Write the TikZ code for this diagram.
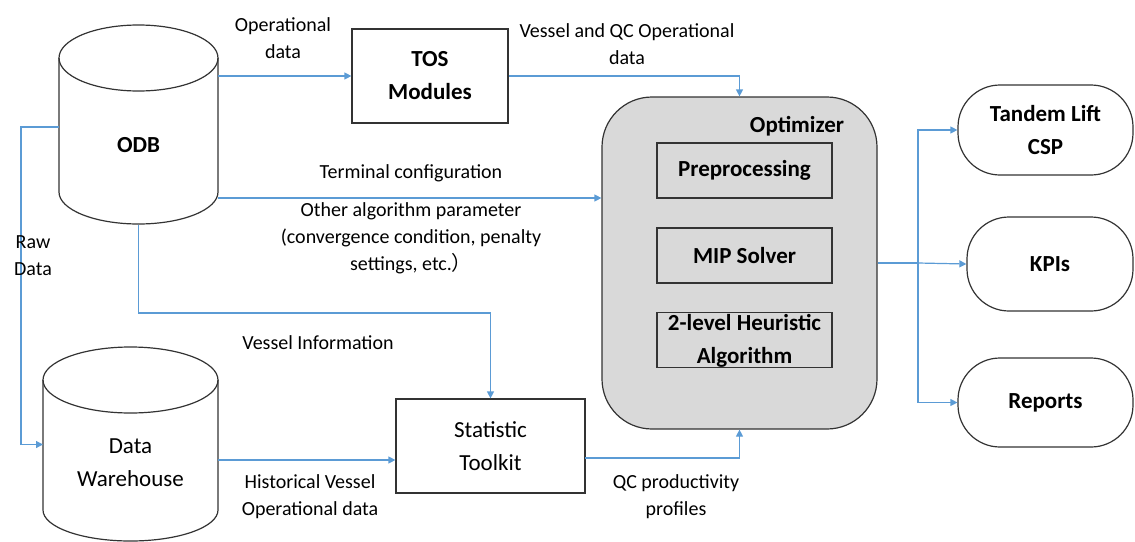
\documentclass[tikz,border=0pt]{standalone}
\usepackage{fontspec}
\setmainfont{Carlito}
\newfontfamily\cjk{Noto Sans CJK SC}
\usetikzlibrary{arrows.meta,calc}
\definecolor{lnblue}{HTML}{5B9BD5}
\definecolor{optgray}{HTML}{D9D9D9}
\definecolor{edge}{HTML}{333333}
\begin{document}
\begin{tikzpicture}[x=1pt,y=-1pt,
  nodefont/.style={font=\fontsize{23}{33}\selectfont\bfseries},
  nodefontreg/.style={font=\fontsize{23}{33}\selectfont},
  lbl/.style={font=\fontsize{20}{27}\selectfont, align=center, text=black, inner sep=0pt},
  boxnode/.style={draw=edge, line width=1.2pt, fill=white, align=center, inner sep=0pt},
  innerbox/.style={draw=edge, line width=1.2pt, fill=optgray, align=center, inner sep=0pt, minimum width=175pt, minimum height=55pt, nodefont},
  outnode/.style={draw=edge, line width=1.2pt, fill=white, rounded corners=42pt, align=center, inner sep=0pt, nodefont},
  area/.style={inner sep=0pt, outer sep=0pt},
  conn/.style={draw=lnblue, line width=1.2pt},
  arr/.style={conn, -{Triangle[length=7pt,width=7pt]}}
]
\useasboundingbox (0,0) rectangle (1135,541);

% ---------- ODB cylinder ----------
\node[area, minimum width=159pt, minimum height=200pt] (odb) at (138.5,125) {};
\draw[edge, line width=1.2pt, fill=white] (59,58) -- (59,192) arc[start angle=180, end angle=360, x radius=79.5pt, y radius=32pt] -- (218,58);
\draw[edge, line width=1.2pt] (138.5,58) ellipse[x radius=79.5pt, y radius=33pt];
\node[nodefont] (odbtxt) at (138.5,145) {ODB};

% ---------- Data Warehouse cylinder ----------
\node[area, minimum width=175pt, minimum height=194pt] (dw) at (130.5,444.5) {};
\draw[edge, line width=1.2pt, fill=white] (43,380) -- (43,510) arc[start angle=180, end angle=360, x radius=87.5pt, y radius=31pt] -- (218,380);
\draw[edge, line width=1.2pt] (130.5,380) ellipse[x radius=87.5pt, y radius=33pt];
\node[nodefontreg, align=center] (dwtxt) at (130.5,463) {Data\\Warehouse};

% ---------- boxes ----------
\node[boxnode, nodefont, minimum width=156pt, minimum height=94pt] (tos) at (430,76) {TOS\\Modules};
\node[boxnode, nodefontreg, minimum width=189pt, minimum height=94pt] (stk) at (490.5,446) {Statistic\\Toolkit};

% ---------- Optimizer ----------
\node[draw=edge, line width=1.2pt, fill=optgray, rounded corners=50pt, minimum width=275pt, minimum height=332pt] (opt) at (739.5,263) {};
\node[nodefont] (opttxt) at (797,126) {Optimizer};
\node[innerbox] (pre) at (744.5,170.5) {Preprocessing};
\node[innerbox] (mip) at (744.5,255.5) {MIP Solver};
\node[innerbox, text depth=0pt] (heu) at (744.5,340) {};
\node[nodefont, align=center] (heutxt) at (744.5,341) {2-level Heuristic\\Algorithm};

% ---------- outputs ----------
\node[outnode, minimum width=175pt, minimum height=90pt] (tls) at (1045.5,130) {Tandem Lift\\CSP};
\node[outnode, minimum width=166pt, minimum height=94pt] (kpi) at (1050,264) {KPIs};
\node[outnode, minimum width=175pt, minimum height=89pt] (rep) at (1045.5,402.5) {Reports};

% ---------- connectors ----------
\draw[arr] (odb.east |- tos.west) -- (tos.west);
\draw[arr] (tos.east) -| (opt.north);
\coordinate (tc) at (218,198);
\draw[arr] (tc) -- (tc -| opt.west);
\draw[arr] (odb.south) -- ++(0,88) -| (stk.north);
\coordinate (rw) at (59,127);
\draw[arr] (rw) -- ++(-38,0) |- (dw.west);
\coordinate (hv) at (218,460);
\draw[arr] (hv) -- (hv -| stk.west);
\coordinate (qc) at (585,458);
\draw[arr] (qc) -| (opt.south);
\coordinate (br) at (918,263);
\draw[conn] (opt.east) -- (br);
\draw[arr] (br) |- (tls.west);
\draw[arr] (br) -- (kpi.west);
\draw[arr] (br) |- (rep.west);

% ---------- labels ----------
\node[lbl] (l1) at (283,38) {Operational\\data};
\node[lbl] (l2) at (627,44) {Vessel and QC Operational\\data};
\node[lbl] (l3) at (411,173) {Terminal configuration};
\node[lbl] (l4) at (411,238) {Other algorithm parameter\\(convergence condition, penalty\\settings, etc.{\cjk ）}};
\node[lbl] (l5) at (318,343) {Vessel Information};
\node[lbl] (l6) at (310,497) {Historical Vessel\\Operational data};
\node[lbl] (l7) at (676,497) {QC productivity\\profiles};
\node[lbl] (l8) at (33,256) {Raw\\Data};
\end{tikzpicture}
\end{document}
